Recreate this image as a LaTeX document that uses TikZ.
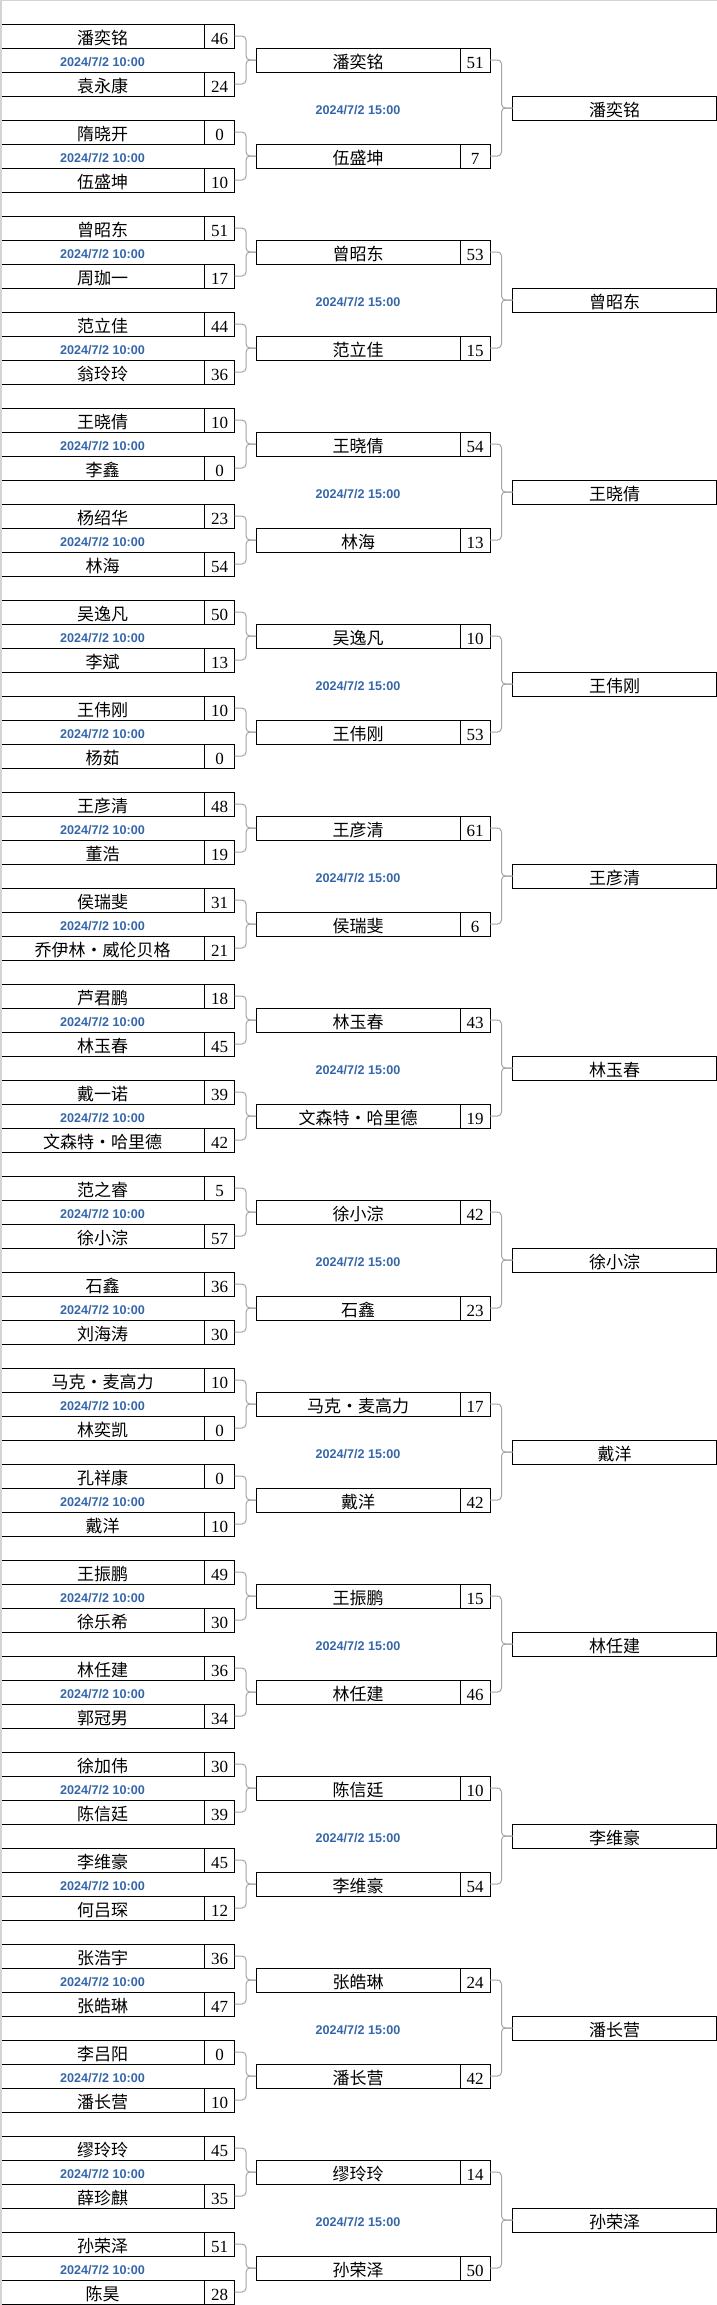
\documentclass[tikz,border=0pt]{standalone}
\usepackage{fontspec}
\setmainfont{Liberation Serif}
\newfontfamily\cjkfont{Noto Sans CJK SC}
\newfontfamily\datefont{Liberation Sans}
\definecolor{datecol}{RGB}{52,102,172}
\definecolor{conncol}{RGB}{165,165,165}
\definecolor{framecol}{RGB}{212,212,212}
\begin{document}
\begin{tikzpicture}[x=1pt,y=-1pt,
  box/.style={draw=black,line width=1pt,rectangle,inner sep=0pt,outer sep=0pt,minimum height=24pt,text height=16pt,text depth=0pt,anchor=north west},
  namebox/.style={box,minimum width=204pt,font=\cjkfont\fontsize{17}{17}\selectfont},
  scorebox/.style={box,minimum width=30pt,font=\fontsize{17}{17}\selectfont},
  datelab/.style={anchor=base,inner sep=0pt,text=datecol,font=\datefont\bfseries\fontsize{12.6}{12.6}\selectfont},
  conn/.style={draw=conncol,line width=1pt,rounded corners=4pt}]
\useasboundingbox (0,0) rectangle (717,2305);
\fill[white] (0,0) rectangle (717,2305);
\foreach \g/\Na/\Sa/\Nb/\Sb/\Nc/\Sc/\Nd/\Sd/\Ne/\Se/\Nf/\Sf/\Nw in {
 0/潘奕铭/46/袁永康/24/隋晓开/0/伍盛坤/10/潘奕铭/51/伍盛坤/7/潘奕铭,
 1/曾昭东/51/周珈一/17/范立佳/44/翁玲玲/36/曾昭东/53/范立佳/15/曾昭东,
 2/王晓倩/10/李鑫/0/杨绍华/23/林海/54/王晓倩/54/林海/13/王晓倩,
 3/吴逸凡/50/李斌/13/王伟刚/10/杨茹/0/吴逸凡/10/王伟刚/53/王伟刚,
 4/王彦清/48/董浩/19/侯瑞斐/31/乔伊林・威伦贝格/21/王彦清/61/侯瑞斐/6/王彦清,
 5/芦君鹏/18/林玉春/45/戴一诺/39/文森特・哈里德/42/林玉春/43/文森特・哈里德/19/林玉春,
 6/范之睿/5/徐小淙/57/石鑫/36/刘海涛/30/徐小淙/42/石鑫/23/徐小淙,
 7/马克・麦高力/10/林奕凯/0/孔祥康/0/戴洋/10/马克・麦高力/17/戴洋/42/戴洋,
 8/王振鹏/49/徐乐希/30/林任建/36/郭冠男/34/王振鹏/15/林任建/46/林任建,
 9/徐加伟/30/陈信廷/39/李维豪/45/何吕琛/12/陈信廷/10/李维豪/54/李维豪,
 10/张浩宇/36/张皓琳/47/李吕阳/0/潘长营/10/张皓琳/24/潘长营/42/潘长营,
 11/缪玲玲/45/薛珍麒/35/孙荣泽/51/陈昊/28/缪玲玲/14/孙荣泽/50/孙荣泽}{
  \pgfmathsetmacro\base{24+192*\g}
  % round 1
  \node[namebox] (n\g-a) at (0.5,\base) {\Na};
  \node[scorebox] (s\g-a) at (n\g-a.north east) {\Sa};
  \node[namebox] (n\g-b) at (0.5,{\base+48}) {\Nb};
  \node[scorebox] (s\g-b) at (n\g-b.north east) {\Sb};
  \node[namebox] (n\g-c) at (0.5,{\base+96}) {\Nc};
  \node[scorebox] (s\g-c) at (n\g-c.north east) {\Sc};
  \node[namebox] (n\g-d) at (0.5,{\base+144}) {\Nd};
  \node[scorebox] (s\g-d) at (n\g-d.north east) {\Sd};
  \node[datelab] (d\g-1) at (102.5,{\base+42}) {2024/7/2 10:00};
  \node[datelab] (d\g-2) at (102.5,{\base+138}) {2024/7/2 10:00};
  % round 2
  \node[namebox] (n\g-e) at (256,{\base+24}) {\Ne};
  \node[scorebox] (s\g-e) at (n\g-e.north east) {\Se};
  \node[namebox] (n\g-f) at (256,{\base+120}) {\Nf};
  \node[scorebox] (s\g-f) at (n\g-f.north east) {\Sf};
  \node[datelab] (d\g-3) at (358,{\base+90}) {2024/7/2 15:00};
  % round 3
  \node[namebox] (n\g-w) at (512.5,{\base+72}) {\Nw};
  % connectors
  \draw[conn] (s\g-a.east) -- ++(11.5,0) |- (n\g-e.west);
  \draw[conn] (s\g-b.east) -- ++(11.5,0) |- (n\g-e.west);
  \draw[conn] (s\g-c.east) -- ++(11.5,0) |- (n\g-f.west);
  \draw[conn] (s\g-d.east) -- ++(11.5,0) |- (n\g-f.west);
  \draw[conn] (s\g-e.east) -- ++(11.5,0) |- (n\g-w.west);
  \draw[conn] (s\g-f.east) -- ++(11.5,0) |- (n\g-w.west);
}
\draw[framecol,line width=2pt] (1,0) -- (1,2305);
\draw[framecol,line width=1pt] (0,0.5) -- (717,0.5);
\end{tikzpicture}
\end{document}
